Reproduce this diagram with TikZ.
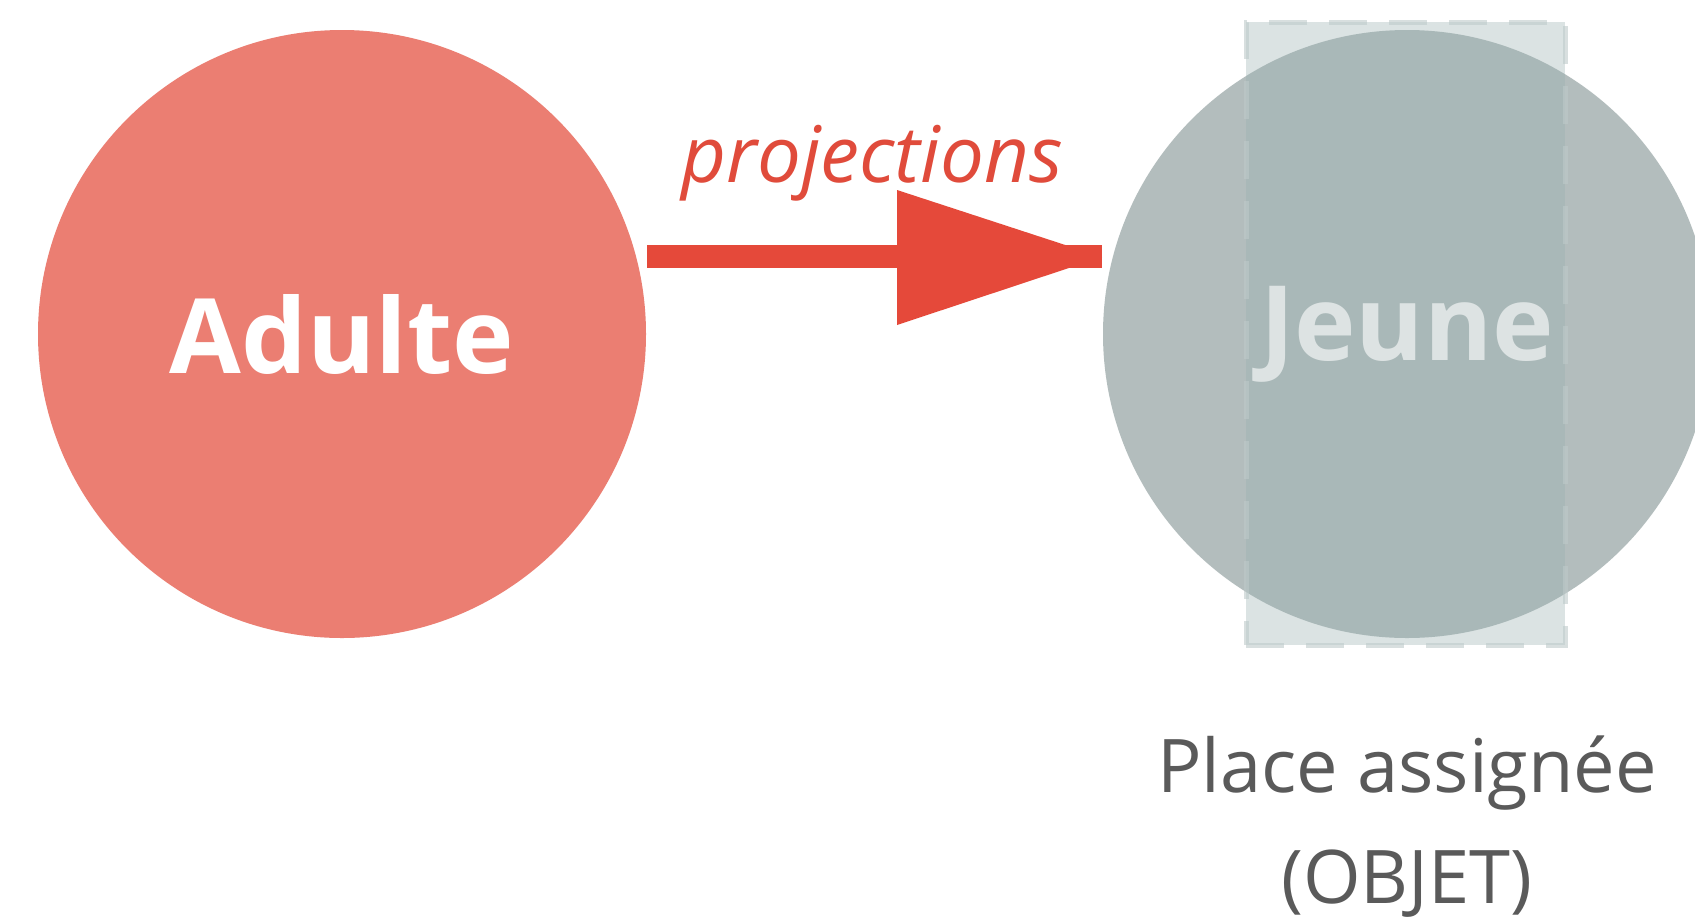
\documentclass[tikz,border=0pt]{standalone}
\usepackage{fontspec}
\setmainfont{Open Sans}
\definecolor{adultc}{RGB}{235,126,114}
\definecolor{arrowc}{RGB}{229,73,58}
\definecolor{projc}{RGB}{224,75,59}
\definecolor{jeunec}{RGB}{179,189,189}
\definecolor{jeunetxt}{RGB}{221,227,227}
\definecolor{rectc}{RGB}{152,175,175}
\definecolor{rectedge}{RGB}{190,202,202}
\definecolor{labelc}{RGB}{90,90,90}
\tikzset{
  bigcircle/.style={circle, minimum size=608pt, inner sep=0pt},
  placebox/.style={rectangle, fill=rectc, fill opacity=0.35, draw=rectedge, draw opacity=0.6, line width=5pt, dash pattern=on 38pt off 22pt, minimum width=319pt, minimum height=623pt, inner sep=0pt},
  shaft/.style={line width=23pt, arrowc}
}
\begin{document}
\begin{tikzpicture}[x=1pt,y=-1pt]
\useasboundingbox (0,0) rectangle (1695,922);
\clip (0,0) rectangle (1695,922);
\fill[white] (0,0) rectangle (1695,922);
% Adulte
\node[bigcircle, fill=adultc, text=white, font=\fontsize{104}{110}\selectfont\bfseries] (adulte) at (342,334) {Adulte};
% Jeune
\node[bigcircle, fill=jeunec] (jeune) at (1407,334) {};
\node[placebox] (place) at (1405.5,333.5) {};
\node[text=jeunetxt, font=\fontsize{104}{110}\selectfont\bfseries] (jeunetext) at (jeune) {Jeune};
% arrow
\coordinate (s) at (647,256.5);
\coordinate (e) at (1102,256.5);
\draw[shaft] (s) -- (e);
\coordinate (tip) at (1102,257);
\fill[arrowc] (897,190) -- (tip) -- (897,325) -- cycle;
\node[anchor=base, text=projc, font=\fontsize{78}{80}\selectfont\itshape, inner sep=0pt] (proj) at (872,182) {projections};
% label
\node[anchor=base, text=labelc, font=\fontsize{74}{80}\selectfont, inner sep=0pt] (lab1) at (1407,792) {Place assignée};
\node[anchor=base, text=labelc, font=\fontsize{74}{80}\selectfont, inner sep=0pt] (lab2) at (1407,903) {(OBJET)};
\end{tikzpicture}
\end{document}
